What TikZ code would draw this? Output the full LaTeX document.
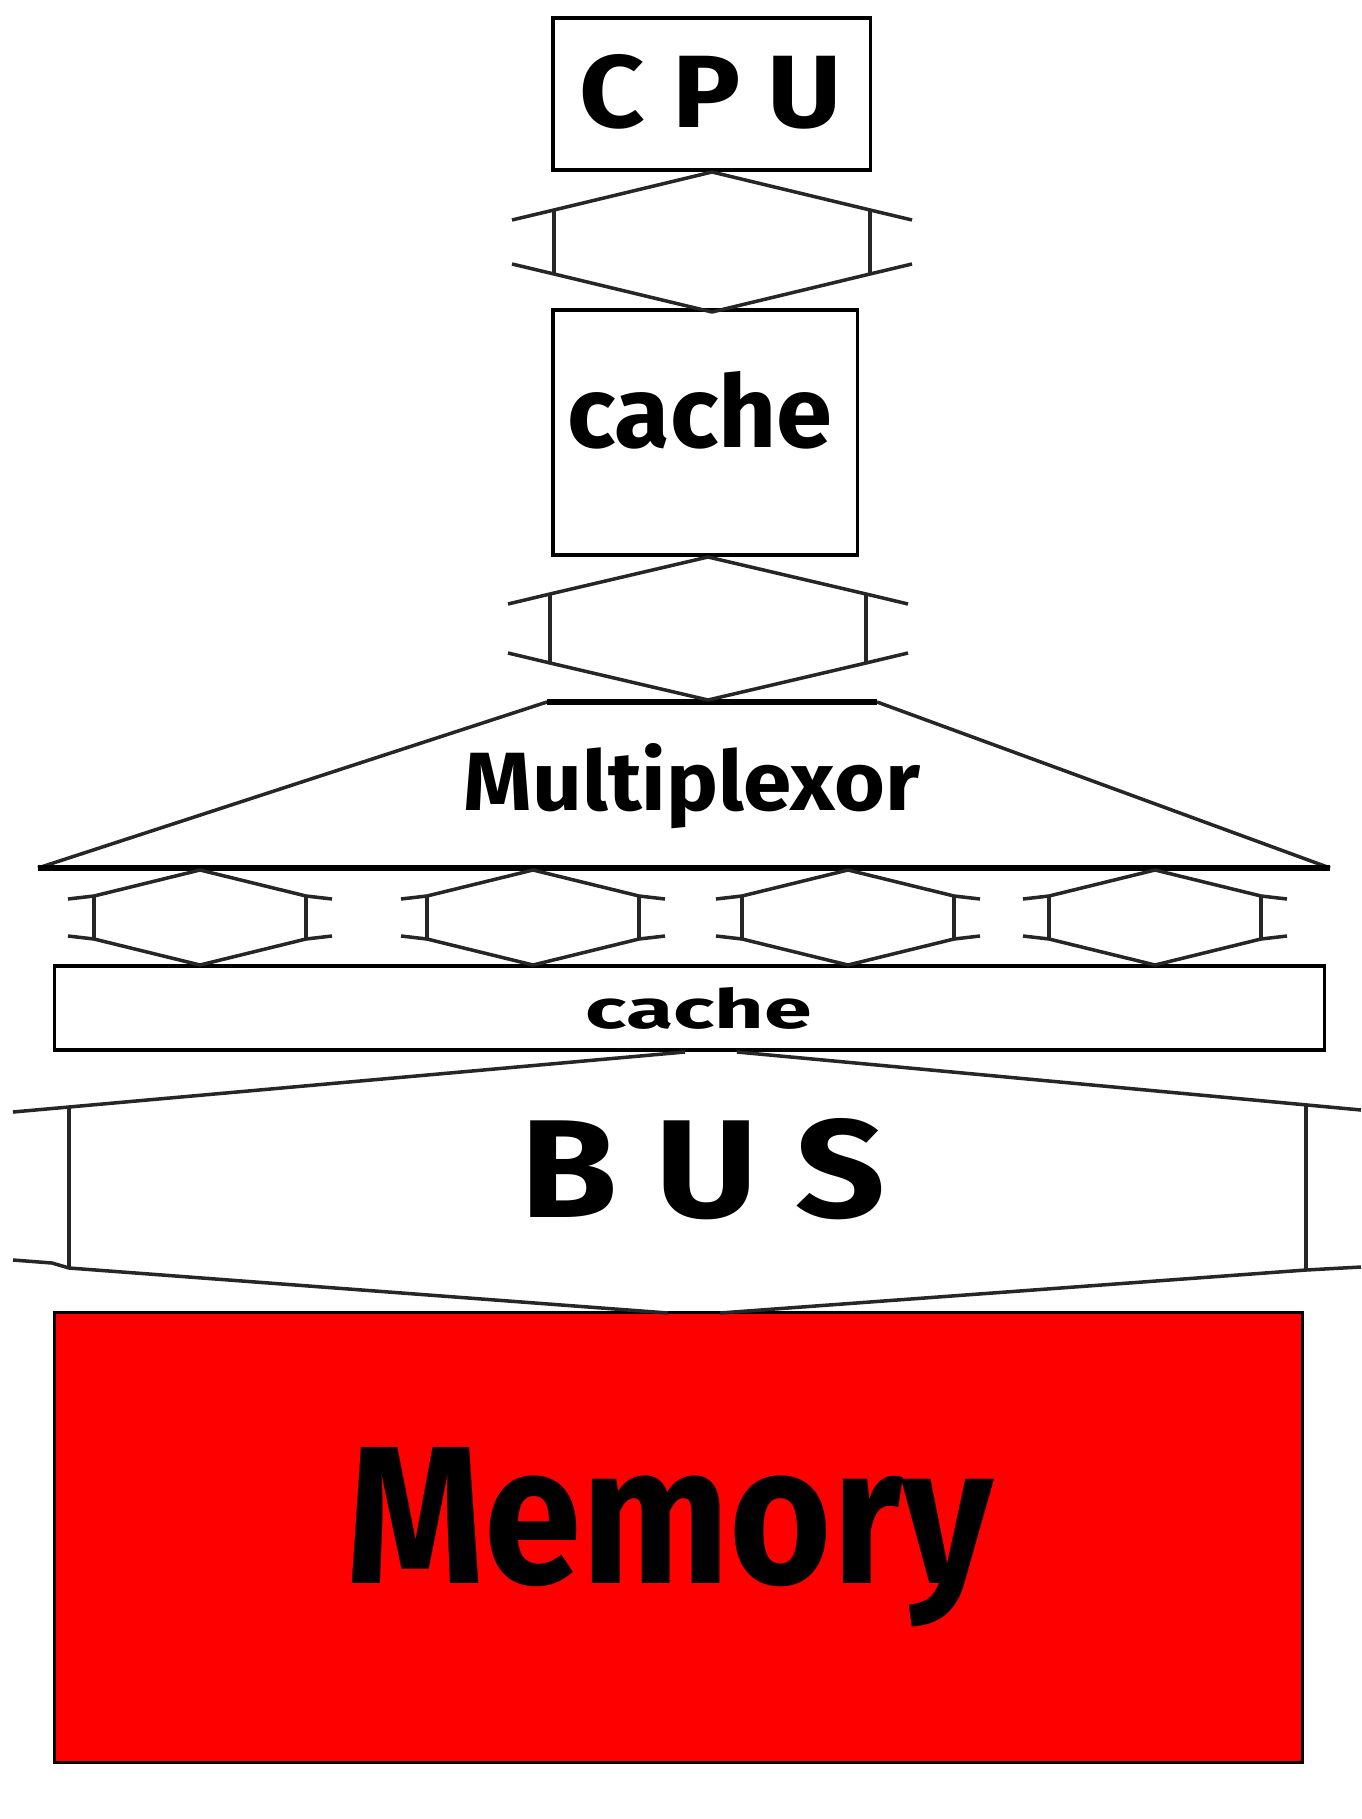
\documentclass[tikz,border=0pt]{standalone}
\usepackage{fontspec}
\setmainfont{Fira Sans}
\usepackage{graphicx}
\newcommand{\hexlink}[7]{%
  \draw[link] ({#1-#5},{#2+#6+#7}) -- ({#1-#4},{#2+#6}) -- (#1,#2) -- ({#1+#4},{#2+#6}) -- ({#1+#5},{#2+#6+#7});
  \draw[link] ({#1-#5},{#3-#6-#7}) -- ({#1-#4},{#3-#6}) -- (#1,#3) -- ({#1+#4},{#3-#6}) -- ({#1+#5},{#3-#6-#7});
  \draw[link] ({#1-#4},{#2+#6}) -- ({#1-#4},{#3-#6});
  \draw[link] ({#1+#4},{#2+#6}) -- ({#1+#4},{#3-#6});}
\begin{document}
\begin{tikzpicture}[x=0.01cm,y=-0.01cm,
  box/.style={draw=black,line width=0.9pt,inner sep=0pt},
  link/.style={draw=black!85,line width=1pt,line join=round},
  tag/.style={inner sep=0pt,anchor=base,font=\bfseries}]
\useasboundingbox (0,0) rectangle (1361,1819);
% boxes
\node[box,minimum width=3.17cm,minimum height=1.52cm] (cpu) at (711.5,94) {};
\node[box,minimum width=3.04cm,minimum height=2.45cm] (lone) at (705,432.5) {};
\node[box,minimum width=12.69cm,minimum height=0.84cm] (ltwo) at (689.5,1008) {};
\node[box,fill=red,minimum width=12.47cm,minimum height=4.49cm] (mem) at (678.5,1537.5) {};
% multiplexor
\coordinate (muxtl) at (547,702);
\coordinate (muxtr) at (877,702);
\coordinate (muxbl) at (38,868);
\coordinate (muxbr) at (1330,868);
\draw[link] (muxbl) -- (muxtl) (muxtr) -- (muxbr);
\draw[line width=1.6pt] (muxtl) -- (muxtr) (muxbl) -- (muxbr);
% links
\hexlink{712}{172}{312}{158}{200}{38}{10}
\hexlink{708}{557}{700}{158}{200}{37}{10}
\foreach \cx in {200,533,848,1155} {\hexlink{\cx}{870}{965}{106}{132}{26}{3}}
% bus
\draw[link] (13,1112) -- (69,1107) -- (685,1052);
\draw[link] (737,1052) -- (1361,1110);
\draw[link] (13,1260) -- (52,1263) -- (69,1268) -- (668,1313);
\draw[link] (720,1313) -- (1306,1270) -- (1361,1267);
\draw[link] (69,1107) -- (69,1268) (1306,1105) -- (1306,1270);
% labels
\node[tag] (cputext) at (711,128) {\resizebox{2.62cm}{0.73cm}{C P U}};
\node[tag] (lonetext) at (700,448) {\resizebox{2.65cm}{0.76cm}{cache}};
\node[tag] (muxtext) at (692,810) {\resizebox{4.56cm}{0.67cm}{Multiplexor}};
\node[tag] (ltwotext) at (699,1028) {\resizebox{2.26cm}{0.41cm}{cache}};
\node[tag] (bustext) at (703,1217) {\resizebox{3.64cm}{0.99cm}{B U S}};
\node[tag] (memtext) at (670,1583) {\resizebox{6.47cm}{1.36cm}{Memory}};
\end{tikzpicture}
\end{document}
